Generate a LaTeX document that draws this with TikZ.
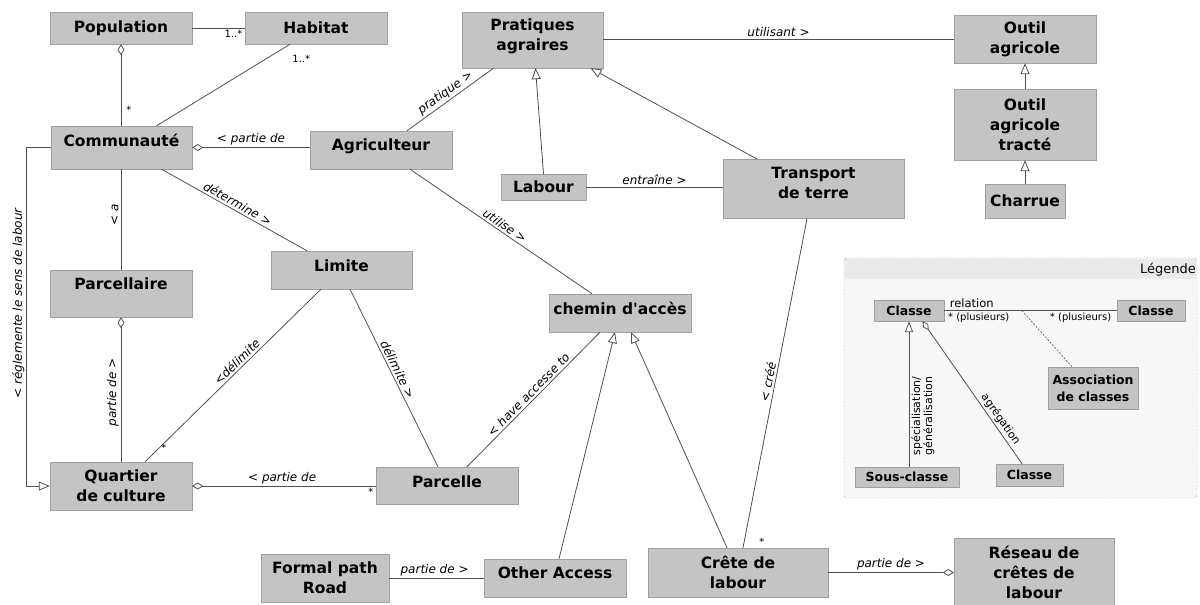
\documentclass[tikz,border=0pt]{standalone}
\usepackage{fontspec}
\setmainfont{DejaVu Sans}
\usetikzlibrary{arrows.meta}
\definecolor{boxgray}{RGB}{196,196,196}
\definecolor{boxline}{RGB}{160,160,160}
\definecolor{linegray}{RGB}{80,80,80}
\definecolor{legfill}{RGB}{247,247,247}
\definecolor{leghead}{RGB}{234,234,234}
\begin{document}
\begin{tikzpicture}[x=1pt, y=-1pt,
    cls/.style={draw=boxline, fill=boxgray, align=center, inner sep=2pt,
        font=\bfseries\fontsize{15.5}{20}\selectfont},
    lcls/.style={cls, font=\bfseries\fontsize{12.5}{17}\selectfont},
    lbl/.style={font=\itshape\fontsize{12}{14}\selectfont, inner sep=2pt},
    mult/.style={font=\fontsize{10}{12}\selectfont, inner sep=2pt},
    lmult/.style={font=\fontsize{11}{12}\selectfont, inner sep=2pt},
    assoc/.style={draw=linegray, line width=0.8pt},
    gen/.style={assoc, -{Triangle[open, fill=white, length=11pt, width=9pt]}},
    agg/.style={assoc, {Diamond[open, fill=white, length=11pt, width=7pt]}-},
    lgen/.style={assoc, -{Triangle[open, fill=white, length=11pt, width=8pt]}},
    lagg/.style={assoc, {Diamond[open, fill=white, length=11pt, width=6pt]}-},
]
    \useasboundingbox (0,0) rectangle (1200,605);

    % Legend frame
    \fill[legfill] (844,258) rectangle (1197,498);
    \fill[leghead] (845,259) rectangle (1196,279);
    \draw[boxline, dash pattern=on 2pt off 1.5pt, rounded corners=3pt] (844,258) rectangle (1197,498);
    \node[anchor=east, font=\fontsize{13}{15}\selectfont, inner sep=1pt] (legtitle) at (1197,270) {Légende};

    % Draw nodes
    \node[cls, minimum width=142, minimum height=32] (pop) at (121,28) {Population};
    \node[cls, minimum width=142, minimum height=32] (hab) at (316,28) {Habitat};
    \node[cls, minimum width=141, minimum height=56, text depth=11] (prat) at (532.5,40) {Pratiques\\agraires};
    \node[cls, minimum width=142, minimum height=48] (outil) at (1025,39) {Outil\\agricole};
    \node[cls, minimum width=142, minimum height=71] (tract) at (1025,124.5) {Outil\\agricole\\tracté};
    \node[cls, minimum width=80, minimum height=34] (charr) at (1025,201) {Charrue};
    \node[cls, minimum width=141, minimum height=43, text depth=14] (comm) at (121.5,147.5) {Communauté};
    \node[cls, minimum width=142, minimum height=38, text depth=11] (agri) at (381,150) {Agriculteur};
    \node[cls, minimum width=85, minimum height=26] (lab) at (543.5,187) {Labour};
    \node[cls, minimum width=181, minimum height=59, text depth=12] (transp) at (813.5,189) {Transport\\de terre};
    \node[cls, minimum width=141, minimum height=38, text depth=8] (limite) at (341.5,270) {Limite};
    \node[cls, minimum width=142, minimum height=47, text depth=20] (parcel) at (121,293.5) {Parcellaire};
    \node[cls, minimum width=142, minimum height=38, text depth=9] (chemin) at (620,313) {chemin d\textquotesingle accès};
    \node[cls, minimum width=142, minimum height=48] (quart) at (121,486) {Quartier\\de culture};
    \node[cls, minimum width=142, minimum height=37, text depth=8] (parc) at (447,485.5) {Parcelle};
    \node[cls, minimum width=128, minimum height=48] (formal) at (325,578) {Formal path\\Road};
    \node[cls, minimum width=142, minimum height=38, text depth=10] (other) at (555,578) {Other Access};
    \node[cls, minimum width=180, minimum height=49] (crete) at (738,572.5) {Crête de\\labour};
    \node[cls, minimum width=160, minimum height=67] (reseau) at (1034,572) {Réseau de\\crêtes de\\labour};

    % Legend nodes
    \node[lcls, minimum width=70, minimum height=21] (lc1) at (909,310.5) {Classe};
    \node[lcls, minimum width=68, minimum height=21] (lc2) at (1151,310.5) {Classe};
    \node[lcls, minimum width=90, minimum height=42] (lassoc) at (1093,388) {Association\\de classes};
    \node[lcls, minimum width=104, minimum height=20] (lsub) at (907,477) {Sous-classe};
    \node[lcls, minimum width=67, minimum height=22] (lc3) at (1029.5,475) {Classe};

    % Draw edges
    \draw[assoc] (pop) -- node[mult, pos=1, below left] {1..*} (hab);
    \draw[agg] (pop.south) -- node[mult, pos=0.8, right, xshift=3] {*} (pop.south |- comm.north);
    \draw[assoc] ([xshift=-26]hab.south) -- node[mult, pos=0, below right, yshift=-8] {1..*} ([xshift=35]comm.north);
    \draw[agg] (comm.east) -- node[lbl, midway, above] {< partie de} (comm.east -| agri.west);
    \draw[assoc] ([xshift=26]agri.north) -- node[lbl, sloped, above, pos=0.5] {pratique >} ([xshift=-39]prat.south);
    \draw[gen] (lab.north) -- ([xshift=3]prat.south);
    \draw[gen] ([xshift=-56]transp.north) -- ([xshift=58]prat.south);
    \draw[assoc] (prat.east |- outil.west) -- node[lbl, above] {utilisant >} (outil.west);
    \draw[gen] (tract) -- (outil);
    \draw[gen] (charr) -- (tract);
    \draw[assoc] (lab.east) -- node[lbl, above] {entraîne >} (lab.east -| transp.west);
    \draw[assoc] ([xshift=29]agri.south) -- node[lbl, sloped, above, pos=0.5] {utilise >} ([xshift=-28]chemin.north);
    \draw[assoc] ([xshift=5]crete.north) -- node[lbl, sloped, above, pos=0.5] {< créé} node[mult, pos=0, above right, xshift=14] {*} ([xshift=-6.5]transp.south);
    \draw[assoc] ([xshift=40]comm.south) -- node[lbl, sloped, above, pos=0.5] {détermine >} ([xshift=-34.5]limite.north);
    \draw[assoc] (comm.south -| parcel.north) -- node[lbl, rotate=90, anchor=south, pos=0.45] {< a} (parcel.north);
    \draw[agg] (parcel.south) -- node[lbl, rotate=90, anchor=south, pos=0.52] {partie de >} (parcel.south |- quart.north);
    \draw[gen] (comm.west) -- ++(-24,0) |- node[lbl, rotate=90, anchor=south, pos=0.23] {< réglemente le sens de labour} (quart.west);
    \draw[assoc] ([xshift=24]quart.north) -- node[lbl, sloped, above, pos=0.55] {<délimite} node[mult, pos=0.08, right] {*} ([xshift=-20.5]limite.south);
    \draw[assoc] ([xshift=8.5]limite.south) -- node[lbl, sloped, above, pos=0.47] {délimite >} ([xshift=-9]parc.north);
    \draw[agg] (quart.east) -- node[lbl, above, pos=0.49] {< partie de} node[mult, pos=1, below left] {*} (quart.east -| parc.west);
    \draw[assoc] ([xshift=20]parc.north) -- node[lbl, sloped, above, pos=0.5] {< have accesse to} ([xshift=-20]chemin.south);
    \draw[gen] ([xshift=4]other.north) -- ([xshift=-5]chemin.south);
    \draw[gen] ([xshift=-11]crete.north) -- ([xshift=11]chemin.south);
    \draw[assoc] (formal.east) -- node[lbl, above, pos=0.48] {partie de >} (other.west);
    \draw[agg] (reseau.west |- crete.east) -- node[lbl, above] {partie de >} (crete.east);

    % Legend edges
    \draw[assoc] (lc1) -- node[lmult, pos=0.16, above, font=\fontsize{11.5}{13}\selectfont] {relation}
        node[mult, pos=0.2, below] {* (plusieurs)} node[mult, pos=0.79, below] {* (plusieurs)}
        coordinate[pos=0.45] (relmid) (lc2);
    \draw[assoc, line width=0.6pt, dash pattern=on 2pt off 1.5pt] (relmid) -- ([xshift=-21]lassoc.north);
    \draw[lgen] ([xshift=2]lsub.north) -- node[lmult, rotate=90, anchor=north, pos=0.35, align=center] {spécialisation/\\généralisation} ([xshift=2]lsub.north |- lc1.south);
    \draw[lagg] ([xshift=13.5]lc1.south) -- node[lmult, sloped, above, pos=0.72] {agrégation} ([xshift=-7.5]lc3.north);
\end{tikzpicture}
\end{document}
